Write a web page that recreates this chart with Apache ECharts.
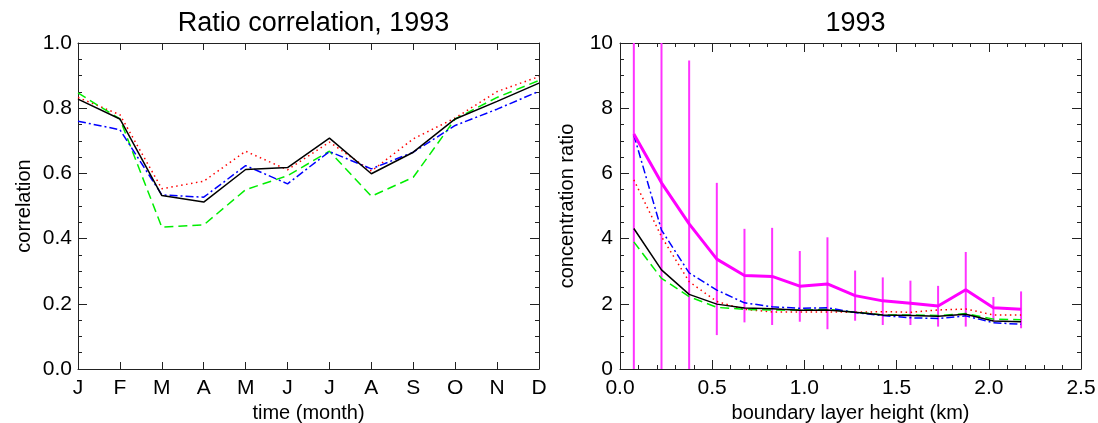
<!DOCTYPE html>
<html>
<head>
<meta charset="utf-8">
<script src="https://cdn.jsdelivr.net/npm/echarts@6/dist/echarts.min.js"></script>
<style>
html,body{margin:0;padding:0;background:#fff;}
#chart{width:1098px;height:423px;}
</style>
</head>
<body>
<div id="chart"></div>
<script>
// ---- Left panel: Ratio correlation, 1993 ----
const monthLabels = ['J','F','M','A','M','J','J','A','S','O','N','D'];
const corrBlack = [0.828,0.767,0.532,0.512,0.612,0.618,0.708,0.599,0.665,0.767,0.821,0.877];
const corrRed   = [0.833,0.780,0.553,0.576,0.668,0.611,0.696,0.607,0.706,0.770,0.851,0.897];
const corrGreen = [0.847,0.767,0.435,0.442,0.550,0.593,0.668,0.530,0.588,0.767,0.833,0.885];
const corrBlue  = [0.760,0.734,0.534,0.527,0.624,0.568,0.667,0.614,0.665,0.747,0.797,0.852];
const corrTicks = [0.0,0.2,0.4,0.6,0.8,1.0];

// ---- Right panel: 1993, concentration ratio vs boundary layer height ----
const heights = [0.075,0.225,0.375,0.525,0.675,0.825,0.975,1.125,1.275,1.425,1.575,1.725,1.875,2.025,2.175];
const ratioMagenta = [7.21,5.71,4.45,3.37,2.87,2.84,2.54,2.61,2.25,2.09,2.02,1.93,2.43,1.88,1.83];
const ratioHigh    = [16.2,12.7,9.46,5.71,4.30,4.33,3.62,4.04,3.02,2.81,2.71,2.55,3.59,2.21,2.38];
const ratioLow     = [-1.8,-1.3,-0.55,1.04,1.43,1.35,1.45,1.22,1.48,1.35,1.35,1.30,1.30,1.47,1.25];
const ratioBlack = [4.31,3.04,2.29,1.99,1.87,1.85,1.80,1.81,1.74,1.66,1.64,1.62,1.68,1.47,1.45];
const ratioGreen = [3.90,2.78,2.22,1.89,1.83,1.81,1.81,1.83,1.74,1.66,1.66,1.64,1.70,1.53,1.51];
const ratioRed   = [5.80,4.06,2.68,2.07,1.83,1.75,1.75,1.75,1.74,1.76,1.74,1.81,1.84,1.66,1.66];
const ratioBlue  = [7.18,4.26,2.95,2.42,2.03,1.91,1.86,1.88,1.73,1.64,1.57,1.55,1.63,1.42,1.37];

const FONT = 'Liberation Sans, Arial, Helvetica, sans-serif';
const AX = '#222';

function pairs(xs, ys){ return ys.map((v,i)=>[xs[i], v]); }
const monthIdx = monthLabels.map((m,i)=>i);

function frameAxis(base, extra){
  return Object.assign({
    axisLine:{show:true, onZero:false, lineStyle:{color:AX, width:1}},
    axisTick:{show:true, inside:true, length:9, lineStyle:{color:AX, width:1}},
    splitLine:{show:false},
    minorSplitLine:{show:false}
  }, base, extra);
}

const labelStyle = {color:'#000', fontSize:21, fontFamily:FONT};
const nameStyle = {color:'#000', fontSize:20, fontFamily:FONT};

const chart = echarts.init(document.getElementById('chart'), null, {renderer:'canvas'});

const option = {
  animation:false,
  backgroundColor:'#fff',
  textStyle:{fontFamily:FONT},
  title:[
    {text:'Ratio correlation, 1993', left:308.5, top:5, textAlign:'center',
     textStyle:{fontSize:27, fontWeight:'normal', color:'#000', fontFamily:FONT}},
    {text:'1993', left:850.5, top:5, textAlign:'center',
     textStyle:{fontSize:27, fontWeight:'normal', color:'#000', fontFamily:FONT}}
  ],
  grid:[
    {left:78, top:43, width:461, height:326, containLabel:false, outerBoundsMode:'none'},
    {left:620, top:43, width:461, height:326, containLabel:false, outerBoundsMode:'none'}
  ],
  xAxis:[
    frameAxis({type:'value', gridIndex:0, position:'bottom', min:0, max:11, interval:1,
      name:'time (month)', nameLocation:'middle', nameGap:27, nameTextStyle:nameStyle,
      axisLabel:Object.assign({margin:9, formatter:v=>monthLabels[v]||''}, labelStyle)},
      {axisTick:{show:true, inside:true, length:7, lineStyle:{color:AX}}}),
    frameAxis({type:'value', gridIndex:0, position:'top', min:0, max:11, interval:1,
      axisLabel:{show:false}},
      {axisTick:{show:true, inside:true, length:7, lineStyle:{color:AX}}}),
    frameAxis({type:'value', gridIndex:1, position:'bottom', min:0, max:2.5, interval:0.5,
      name:'boundary layer height (km)', nameLocation:'middle', nameGap:27, nameTextStyle:nameStyle,
      axisLabel:Object.assign({margin:9, formatter:v=>v.toFixed(1)}, labelStyle),
      minorTick:{show:true, splitNumber:5, length:4, lineStyle:{color:AX}}}),
    frameAxis({type:'value', gridIndex:1, position:'top', min:0, max:2.5, interval:0.5,
      axisLabel:{show:false},
      minorTick:{show:true, splitNumber:5, length:4, lineStyle:{color:AX}}})
  ],
  yAxis:[
    frameAxis({type:'value', gridIndex:0, position:'left', min:corrTicks[0], max:corrTicks[corrTicks.length-1], interval:0.2,
      name:'correlation', nameLocation:'middle', nameGap:44, nameTextStyle:nameStyle,
      axisLabel:Object.assign({margin:6, formatter:v=>v.toFixed(1)}, labelStyle),
      minorTick:{show:true, splitNumber:4, length:4, lineStyle:{color:AX}}}),
    frameAxis({type:'value', gridIndex:0, position:'right', min:0, max:1, interval:0.2,
      axisLabel:{show:false},
      minorTick:{show:true, splitNumber:4, length:4, lineStyle:{color:AX}}}),
    frameAxis({type:'value', gridIndex:1, position:'left', min:0, max:10, interval:2,
      name:'concentration ratio', nameLocation:'middle', nameGap:43, nameTextStyle:nameStyle,
      axisLabel:Object.assign({margin:7}, labelStyle),
      minorTick:{show:true, splitNumber:4, length:4, lineStyle:{color:AX}}}),
    frameAxis({type:'value', gridIndex:1, position:'right', min:0, max:10, interval:2,
      axisLabel:{show:false},
      minorTick:{show:true, splitNumber:4, length:4, lineStyle:{color:AX}}})
  ],
  series:[
    // left panel
    {type:'line', xAxisIndex:0, yAxisIndex:0, data:pairs(monthIdx, corrRed), symbol:'none',
      lineStyle:{color:'#ff0000', width:1.5, type:[1.5,3.5]}},
    {type:'line', xAxisIndex:0, yAxisIndex:0, data:pairs(monthIdx, corrGreen), symbol:'none',
      lineStyle:{color:'#00ee00', width:1.5, type:[9,5]}},
    {type:'line', xAxisIndex:0, yAxisIndex:0, data:pairs(monthIdx, corrBlue), symbol:'none',
      lineStyle:{color:'#0000ff', width:1.5, type:[8,3,2,3]}},
    {type:'line', xAxisIndex:0, yAxisIndex:0, data:pairs(monthIdx, corrBlack), symbol:'none',
      lineStyle:{color:'#000000', width:1.5}},
    // right panel
    {type:'line', xAxisIndex:2, yAxisIndex:2, data:pairs(heights, ratioRed), symbol:'none',
      lineStyle:{color:'#ff0000', width:1.5, type:[1.5,3.5]}},
    {type:'line', xAxisIndex:2, yAxisIndex:2, data:pairs(heights, ratioGreen), symbol:'none',
      lineStyle:{color:'#00ee00', width:1.5, type:[9,5]}},
    {type:'line', xAxisIndex:2, yAxisIndex:2, data:pairs(heights, ratioBlue), symbol:'none',
      lineStyle:{color:'#0000ff', width:1.5, type:[8,3,2,3]}},
    {type:'line', xAxisIndex:2, yAxisIndex:2, data:pairs(heights, ratioBlack), symbol:'none',
      lineStyle:{color:'#000000', width:1.5}},
    {type:'custom', xAxisIndex:2, yAxisIndex:2,
      data:heights.map((h,i)=>[h, ratioLow[i], ratioHigh[i]]),
      encode:{x:0, y:[1,2]},
      renderItem:function(params, api){
        const x = api.value(0);
        const p1 = api.coord([x, api.value(1)]);
        const p2 = api.coord([x, api.value(2)]);
        const cs = params.coordSys;
        const top = cs.y, bot = cs.y + cs.height;
        const y1 = Math.min(bot, Math.max(top, p1[1]));
        const y2 = Math.min(bot, Math.max(top, p2[1]));
        return {type:'line', shape:{x1:p1[0], y1:y1, x2:p2[0], y2:y2},
          style:{stroke:'#ff33ff', lineWidth:2}};
      }},
    {type:'line', xAxisIndex:2, yAxisIndex:2, data:pairs(heights, ratioMagenta), symbol:'none',
      lineStyle:{color:'#ff00ff', width:3}}
  ]
};
chart.setOption(option);
</script>
</body>
</html>
